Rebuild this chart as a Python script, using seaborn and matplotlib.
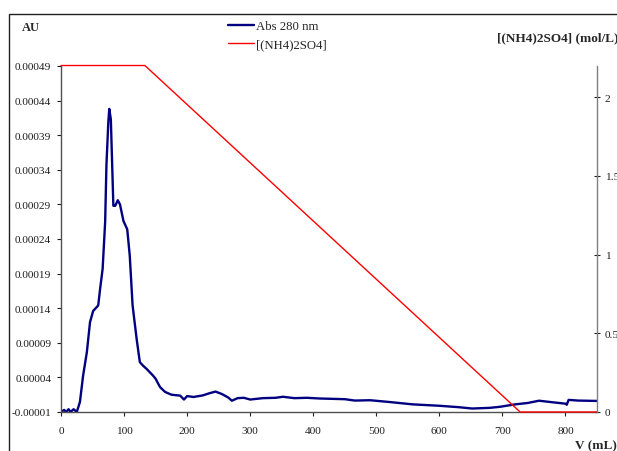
import matplotlib
matplotlib.use('Agg')
import matplotlib.pyplot as plt
import matplotlib.ticker as ticker
import pandas as pd
import seaborn as sns
import numpy as np
from matplotlib.patches import Rectangle

# elution volume (mL) / absorbance at 280 nm (AU)
v_abs = [0, 5, 8, 12, 15, 20, 25, 30, 35, 41, 46, 51, 59, 62, 66, 70, 72, 75, 76.5, 79,
         81, 83, 86, 90, 93.5, 99, 105, 109, 113.5, 120, 125, 130, 136, 146, 150, 157, 165,
         175, 189, 195, 200, 210, 225, 235, 245, 255, 265, 271, 280, 290, 300, 320, 340,
         352, 370, 390, 410, 430, 450, 466, 490, 520, 558, 600, 630, 652, 680, 696, 720,
         740, 758, 780, 800, 802, 805, 820, 848, 850]
au = [-0.00001, -0.000007, -0.00001, -0.000006, -0.00001, -0.000006, -0.00001, 0.0000045,
      0.0000425, 0.0000767, 0.00012, 0.000136, 0.000144, 0.000168, 0.000197, 0.000265,
      0.000346, 0.000409, 0.000428, 0.000413, 0.000351, 0.000288, 0.000288, 0.000296,
      0.00029, 0.000266, 0.000254, 0.000216, 0.000144, 0.000095, 0.000062, 0.000057,
      0.000052, 0.0000425, 0.000038, 0.000026, 0.000019, 0.000015, 0.0000136, 0.000008,
      0.000013, 0.0000117, 0.000014, 0.000017, 0.0000195, 0.000016, 0.000011, 0.0000063,
      0.00001, 0.0000105, 0.000008, 0.00001, 0.0000105, 0.000012, 0.00001, 0.0000105,
      0.0000095, 0.000009, 0.0000085, 0.0000065, 0.000007, 0.0000045, 0.000001, -0.000001,
      -0.000003, -0.000005, -0.000004, -0.0000025, 0.000001, 0.000003, 0.0000063, 0.000004,
      0.000002, 0.0000005, 0.0000075, 0.0000065, 0.000006, 0.000006]

# ammonium sulfate gradient (mol/L)
v_salt = [0, 133, 728, 850]
salt = [2.2, 2.2, 0, 0]

left_ticks = [-0.00001, 0.00004, 0.00009, 0.00014, 0.00019, 0.00024, 0.00029, 0.00034, 0.00039, 0.00044, 0.00049]
right_ticks = [0, 0.5, 1, 1.5, 2]
x_ticks = [0, 100, 200, 300, 400, 500, 600, 700, 800]

df_abs = pd.DataFrame({'V': v_abs, 'AU': au})
df_salt = pd.DataFrame({'V': v_salt, 'salt': salt})

sns.set_style('white')
plt.rcParams['font.family'] = ['Liberation Serif', 'DejaVu Serif']

fig = plt.figure(figsize=(6.17, 4.52), dpi=100)
ax = fig.add_axes([0.0989, 0.0863, 0.8687, 0.7655])
ax2 = ax.twinx()

sns.lineplot(data=df_abs, x='V', y='AU', ax=ax, color='#000080', linewidth=1.7, label='Abs 280 nm', legend=False)
sns.lineplot(data=df_salt, x='V', y='salt', ax=ax2, color='#FF0000', linewidth=1.0, label='[(NH4)2SO4]', legend=False)
for ln in ax2.get_lines():
    ln.set_clip_on(False)

ax.set_xlim(0, 850)
ax.set_ylim(-0.00001, 0.00049)
ax2.set_ylim(0, 2.197)
ax.set_xticks(x_ticks)
ax.set_yticks(left_ticks)
ax.yaxis.set_major_formatter(ticker.FuncFormatter(lambda v, p: '%.5f' % v))
ax2.set_yticks(right_ticks)
ax2.set_yticklabels(['0', '0.5', '1', '1.5', '2'])
ax.set_xlabel('')
ax.set_ylabel('')
ax2.set_ylabel('')

for a in (ax, ax2):
    a.spines['top'].set_visible(False)
    for s in a.spines.values():
        s.set_color('#505050')
        s.set_linewidth(1.0)
ax.spines['right'].set_visible(False)
ax2.spines['left'].set_visible(False)
ax2.spines['bottom'].set_visible(False)
ax2.spines['right'].set_color('#808080')

ax.tick_params(axis='both', which='major', labelsize=8.2, direction='out', length=3, width=0.8,
               colors='#202020', left=True, bottom=True)
ax.tick_params(axis='x', pad=7)
ax.tick_params(axis='y', pad=4)
ax2.tick_params(axis='y', labelsize=8.2, direction='inout', length=5, width=0.8, right=True,
                colors='#202020', pad=3)

fig.text(22 / 617, 1 - 28 / 452, 'AU', fontsize=9, fontweight='bold', va='center')
fig.text(497 / 617, 1 - 38 / 452, '[(NH4)2SO4] (mol/L)', fontsize=9.5, fontweight='bold', va='center')
fig.text(575 / 617, 1 - 446 / 452, 'V (mL)', fontsize=9.5, fontweight='bold', va='center')

h1, l1 = ax.get_legend_handles_labels()
h2, l2 = ax2.get_legend_handles_labels()
fig.legend(h1 + h2, l1 + l2, loc='upper left', bbox_to_anchor=(228 / 617, 1 - 21 / 452),
           frameon=False, fontsize=9.2, handlelength=2.0, handletextpad=0.2, labelspacing=0.52,
           borderaxespad=0, borderpad=0)

fig.patches.append(Rectangle((9 / 617, -0.1), 1.2, 1 - 15 / 452 + 0.1, transform=fig.transFigure,
                             fill=False, edgecolor='#202020', linewidth=1.0, clip_on=False))

fig.savefig('out.png', dpi=100)
plt.close('all')
